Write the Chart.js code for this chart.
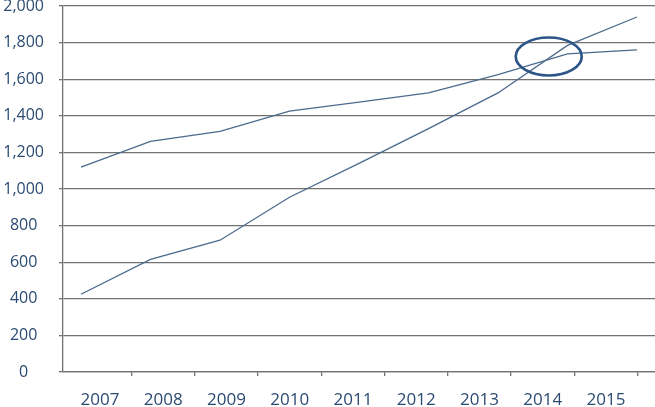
<!DOCTYPE html>
<html>
<head>
<meta charset="utf-8">
<script src="https://cdn.jsdelivr.net/npm/chart.js@4/dist/chart.umd.min.js"></script>
<style>
  html, body { margin: 0; padding: 0; background: #fff; }
  .chart-box { width: 655px; height: 407px; position: relative; }
</style>
</head>
<body>
<div class="chart-box"><canvas id="growthChart"></canvas></div>
<script>
// Data
const years = ['2007', '2008', '2009', '2010', '2011', '2012', '2013', '2014', '2015'];
const slowSeries = [1120, 1260, 1315, 1425, 1475, 1525, 1625, 1738, 1760];
const fastSeries = [425, 615, 720, 955, 1140, 1330, 1525, 1785, 1940];
const yTicks = [0, 200, 400, 600, 800, 1000, 1200, 1400, 1600, 1800, 2000];

// where the circled crossing sits, in data units
const markX = 6.73;
const markY = 1724;

const lineColor = '#4b6a8d';
const gridColor = '#727272';
const textColor = '#2b4a72';

const toPoints = arr => arr.map((v, i) => ({ x: i, y: v }));

// ellipse round the crossing
const circleMark = {
  id: 'circleMark',
  afterDatasetsDraw(chart) {
    const { ctx, scales } = chart;
    const cx = scales.x.getPixelForValue(markX);
    const cy = scales.y.getPixelForValue(markY);
    ctx.save();
    ctx.beginPath();
    ctx.ellipse(cx, cy, 33, 19, 0, 0, Math.PI * 2);
    ctx.lineWidth = 2.7;
    ctx.strokeStyle = '#2d5486';
    ctx.stroke();
    ctx.restore();
  }
};

new Chart(document.getElementById('growthChart'), {
  type: 'line',
  data: {
    datasets: [
      {
        data: toPoints(slowSeries),
        borderColor: lineColor,
        borderWidth: 1.3,
        pointRadius: 0,
        tension: 0,
        xAxisID: 'x'
      },
      {
        data: toPoints(fastSeries),
        borderColor: lineColor,
        borderWidth: 1.3,
        pointRadius: 0,
        tension: 0,
        xAxisID: 'x'
      }
    ]
  },
  options: {
    responsive: true,
    maintainAspectRatio: false,
    animation: false,
    layout: { padding: { top: 6, right: 0, left: 0, bottom: 0 } },
    plugins: {
      legend: { display: false },
      tooltip: { enabled: false }
    },
    scales: {
      // data axis, hidden
      x: {
        type: 'linear',
        display: false,
        min: -0.259,
        max: 8.259
      },
      // label axis
      xl: {
        type: 'linear',
        position: 'bottom',
        min: -0.585,
        max: 8.775,
        afterBuildTicks: scale => {
          scale.ticks = years.map((_, i) => ({ value: i }));
        },
        afterFit: scale => {
          scale.height = 35;
          scale.paddingLeft = 0;
          scale.paddingRight = 0;
        },
        grid: {
          offset: true,
          drawOnChartArea: false,
          tickLength: 4,
          lineWidth: 1.3,
          color: c => (c.index === 0 || c.index === years.length) ? 'rgba(0,0,0,0)' : gridColor
        },
        border: { display: true, color: gridColor, width: 1.3 },
        ticks: {
          autoSkip: false,
          maxRotation: 0,
          padding: 14,
          color: textColor,
          font: { family: 'Open Sans', size: 17 },
          callback: v => years[v]
        }
      },
      y: {
        min: 0,
        max: 2000,
        afterBuildTicks: scale => {
          scale.ticks = yTicks.map(v => ({ value: v }));
        },
        afterFit: scale => {
          scale.width = 63;
          scale.paddingTop = 0;
          scale.paddingBottom = 0;
        },
        grid: { color: gridColor, lineWidth: 1.3, tickLength: 4 },
        border: { display: true, color: gridColor, width: 1.3 },
        ticks: {
          crossAlign: 'center',
          padding: 15,
          color: textColor,
          font: { family: 'Open Sans', size: 16 },
          callback: v => v.toLocaleString('en-US')
        }
      }
    }
  },
  plugins: [circleMark]
});
</script>
</body>
</html>
